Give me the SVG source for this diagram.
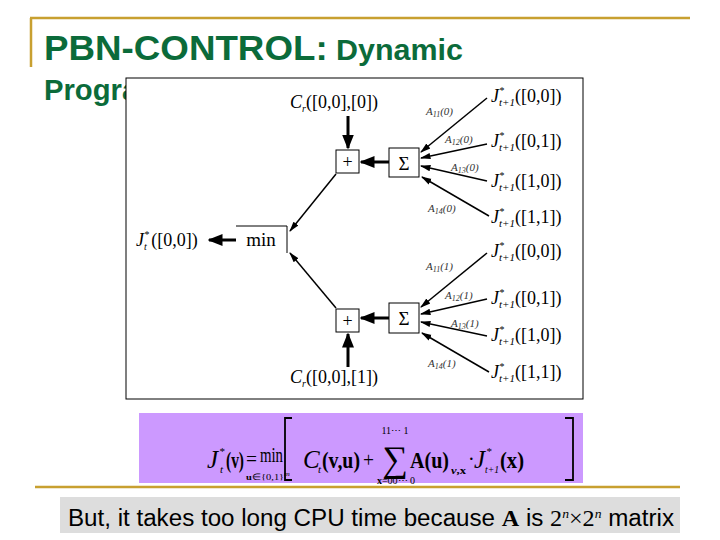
<svg xmlns="http://www.w3.org/2000/svg" width="720" height="540" viewBox="0 0 720 540">
<defs>
<marker id="ah" viewBox="0 0 10 10" refX="9" refY="5" markerWidth="5" markerHeight="5" orient="auto"><path d="M0,1 L10,5 L0,9 z" fill="#000"/></marker>
<marker id="ahs" viewBox="0 0 10 10" refX="9" refY="5" markerWidth="7" markerHeight="7" orient="auto"><path d="M0,2 L10,5 L0,8 z" fill="#000"/></marker>
</defs>
<style>
.m{font-family:"Liberation Serif",serif;fill:#000}
.i{font-style:italic}
.b{font-weight:bold}
.lab{font-family:"Liberation Serif",serif;font-style:italic;font-size:11px;fill:#333}
.jl{font-family:"Liberation Serif",serif;font-size:18px;fill:#000}
.box{fill:#fff;stroke:#000;stroke-width:1}
.thin{stroke:#000;stroke-width:1.5;fill:none;marker-end:url(#ahs)}
.thick{stroke:#000;stroke-width:3;fill:none;marker-end:url(#ah)}
</style>
<rect width="720" height="540" fill="#fff"/>
<g id="title">
<path d="M30,18 H690 M31,18 V67" stroke="#C8A030" stroke-width="2.5" fill="none"/>
<text x="44" y="60" font-family="Liberation Sans, sans-serif" font-weight="bold" fill="#0B6B3A" textLength="419" lengthAdjust="spacingAndGlyphs"><tspan font-size="35">PBN-CONTROL:</tspan><tspan font-size="29"> Dynamic</tspan></text>
<text x="44" y="100" font-family="Liberation Sans, sans-serif" font-weight="bold" font-size="29" fill="#0B6B3A" textLength="190" lengthAdjust="spacingAndGlyphs">Programming</text>
</g>
<g id="panel">
<rect x="126" y="78" width="457" height="321" fill="#fff" stroke="#000" stroke-width="1"/>
</g>
<g id="connectors">
<line x1="348" y1="116" x2="348" y2="148" class="thick"/>
<line x1="348" y1="367" x2="348" y2="334" class="thick"/>
<line x1="389" y1="162" x2="361" y2="162" class="thick"/>
<line x1="389" y1="318" x2="361" y2="318" class="thick"/>
<line x1="336" y1="174" x2="290" y2="231" class="thin"/>
<line x1="336" y1="308" x2="290" y2="253" class="thin"/>
<line x1="236" y1="240" x2="209" y2="240" class="thick"/>
<line x1="487" y1="98" x2="421" y2="152" class="thin"/>
<line x1="487" y1="144" x2="421" y2="158" class="thin"/>
<line x1="487" y1="181" x2="421" y2="166" class="thin"/>
<line x1="489" y1="216" x2="422" y2="177" class="thin"/>
<line x1="487" y1="253" x2="421" y2="307" class="thin"/>
<line x1="487" y1="299" x2="421" y2="314" class="thin"/>
<line x1="487" y1="336" x2="421" y2="322" class="thin"/>
<line x1="489" y1="372" x2="422" y2="333" class="thin"/>
</g>
<g id="plus0"><rect class="box" x="336" y="150" width="23" height="23"/><text class="m" x="347.5" y="168" font-size="18" text-anchor="middle">+</text></g>
<g id="sum0"><rect class="box" x="389" y="148" width="30" height="29"/><text class="m" x="404" y="170" font-size="19" text-anchor="middle">Σ</text></g>
<g id="plus1"><rect class="box" x="336" y="309" width="23" height="23"/><text class="m" x="347.5" y="327" font-size="18" text-anchor="middle">+</text></g>
<g id="sum1"><rect class="box" x="389" y="303" width="30" height="30"/><text class="m" x="404" y="325" font-size="19" text-anchor="middle">Σ</text></g>
<g id="min"><path d="M236,226 H287 V253" class="box" fill="none"/><text class="m" x="261" y="246" font-size="19" text-anchor="middle">min</text></g>
<g id="Jt"><text class="jl" x="136" y="246"><tspan class="i">J</tspan><tspan class="i" font-size="10" dy="-8">*</tspan><tspan class="i" font-size="10" dx="-5" dy="12">t</tspan><tspan dy="-4"> ([0,0])</tspan></text></g>
<g id="C0"><text class="jl" x="290" y="108"><tspan class="i">C</tspan><tspan class="i" font-size="10" dy="4">r</tspan><tspan dy="-4">([0,0],[0])</tspan></text></g>
<g id="C1"><text class="jl" x="290" y="383"><tspan class="i">C</tspan><tspan class="i" font-size="10" dy="4">r</tspan><tspan dy="-4">([0,0],[1])</tspan></text></g>
<g id="Jright" class="jl">
<text x="491" y="102"><tspan class="i">J</tspan><tspan class="i" font-size="10" dy="-8">*</tspan><tspan class="i" font-size="11" dx="-5" dy="12">t+1</tspan><tspan dy="-4">([0,0])</tspan></text>
<text x="491" y="147"><tspan class="i">J</tspan><tspan class="i" font-size="10" dy="-8">*</tspan><tspan class="i" font-size="11" dx="-5" dy="12">t+1</tspan><tspan dy="-4">([0,1])</tspan></text>
<text x="491" y="187"><tspan class="i">J</tspan><tspan class="i" font-size="10" dy="-8">*</tspan><tspan class="i" font-size="11" dx="-5" dy="12">t+1</tspan><tspan dy="-4">([1,0])</tspan></text>
<text x="491" y="223"><tspan class="i">J</tspan><tspan class="i" font-size="10" dy="-8">*</tspan><tspan class="i" font-size="11" dx="-5" dy="12">t+1</tspan><tspan dy="-4">([1,1])</tspan></text>
<text x="491" y="257"><tspan class="i">J</tspan><tspan class="i" font-size="10" dy="-8">*</tspan><tspan class="i" font-size="11" dx="-5" dy="12">t+1</tspan><tspan dy="-4">([0,0])</tspan></text>
<text x="491" y="304"><tspan class="i">J</tspan><tspan class="i" font-size="10" dy="-8">*</tspan><tspan class="i" font-size="11" dx="-5" dy="12">t+1</tspan><tspan dy="-4">([0,1])</tspan></text>
<text x="491" y="341"><tspan class="i">J</tspan><tspan class="i" font-size="10" dy="-8">*</tspan><tspan class="i" font-size="11" dx="-5" dy="12">t+1</tspan><tspan dy="-4">([1,0])</tspan></text>
<text x="491" y="378"><tspan class="i">J</tspan><tspan class="i" font-size="10" dy="-8">*</tspan><tspan class="i" font-size="11" dx="-5" dy="12">t+1</tspan><tspan dy="-4">([1,1])</tspan></text>
</g>
<g id="Alabels" class="lab">
<text x="426" y="115">A<tspan font-size="8" dy="2">11</tspan><tspan dy="-2">(0)</tspan></text>
<text x="445" y="143">A<tspan font-size="8" dy="2">12</tspan><tspan dy="-2">(0)</tspan></text>
<text x="451" y="171">A<tspan font-size="8" dy="2">13</tspan><tspan dy="-2">(0)</tspan></text>
<text x="428" y="212">A<tspan font-size="8" dy="2">14</tspan><tspan dy="-2">(0)</tspan></text>
<text x="426" y="270">A<tspan font-size="8" dy="2">11</tspan><tspan dy="-2">(1)</tspan></text>
<text x="445" y="299">A<tspan font-size="8" dy="2">12</tspan><tspan dy="-2">(1)</tspan></text>
<text x="451" y="327">A<tspan font-size="8" dy="2">13</tspan><tspan dy="-2">(1)</tspan></text>
<text x="428" y="367">A<tspan font-size="8" dy="2">14</tspan><tspan dy="-2">(1)</tspan></text>
</g>
<g id="formula">
<rect x="139" y="413" width="444" height="70" fill="#CC99FF"/>
<text class="m i" x="207" y="468" font-size="25">J</text>
<text class="m i" x="219" y="455" font-size="11">*</text>
<text class="m i" x="220" y="473" font-size="11">t</text>
<text class="m b" x="226" y="468" font-size="24" textLength="18" lengthAdjust="spacingAndGlyphs">(v)</text>
<text class="m" x="246" y="466" font-size="20" textLength="11" lengthAdjust="spacingAndGlyphs">=</text>
<text class="m" x="260" y="462" font-size="21" textLength="23" lengthAdjust="spacingAndGlyphs">min</text>
<text class="m" x="246" y="480" font-size="9" textLength="44" lengthAdjust="spacingAndGlyphs"><tspan class="b">u</tspan>∈{0,1}<tspan class="i" font-size="7" dy="-4">m</tspan></text>
<path d="M292,418 H285 V480 H292 M565,418 H573 V480 H565" stroke="#000" stroke-width="1.8" fill="none"/>
<text class="m i" x="303" y="468" font-size="25">C</text>
<text class="m i" x="318" y="473" font-size="11">t</text>
<text class="m b" x="322" y="468" font-size="24" textLength="38" lengthAdjust="spacingAndGlyphs">(v,u)</text>
<text class="m" x="363" y="467" font-size="22" textLength="11" lengthAdjust="spacingAndGlyphs">+</text>
<text class="m" x="395" y="471" font-size="36" text-anchor="middle">∑</text>
<text class="m" x="395" y="434" font-size="10" text-anchor="middle">11⋯ 1</text>
<text class="m" x="396" y="484" font-size="10" text-anchor="middle"><tspan class="b">x</tspan>=00⋯ 0</text>
<text class="m b" x="410" y="468" font-size="24" textLength="39" lengthAdjust="spacingAndGlyphs">A(u)</text>
<text class="m b" x="451" y="474" font-size="11" textLength="15" lengthAdjust="spacingAndGlyphs"><tspan class="i">v</tspan>,x</text>
<text class="m" x="468" y="466" font-size="20">·</text>
<text class="m i" x="474" y="468" font-size="25">J</text>
<text class="m i" x="486" y="455" font-size="11">*</text>
<text class="m i" x="485" y="473" font-size="11" textLength="14" lengthAdjust="spacingAndGlyphs">t+1</text>
<text class="m b" x="500" y="468" font-size="24" textLength="24" lengthAdjust="spacingAndGlyphs">(x)</text>
</g>
<g id="footer">
<line x1="35" y1="487" x2="680" y2="487" stroke="#C8A030" stroke-width="2.5"/>
<rect x="60" y="497" width="620" height="36" fill="#DDDDDD"/>
<text x="68" y="526" font-family="Liberation Sans, sans-serif" font-size="23" fill="#000" textLength="606" lengthAdjust="spacingAndGlyphs">But, it takes too long CPU time because <tspan font-family="Liberation Serif, serif" font-weight="bold">A</tspan> is <tspan font-family="Liberation Serif, serif">2<tspan font-size="13" dy="-8" class="i">n</tspan><tspan dy="8">×2</tspan><tspan font-size="13" dy="-8" class="i">n</tspan></tspan><tspan dy="8"> matrix</tspan></text>
</g>
</svg>
